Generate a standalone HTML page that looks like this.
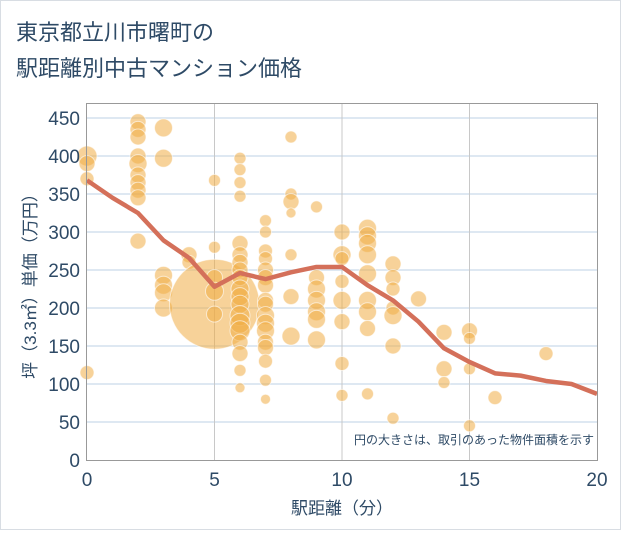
<!DOCTYPE html>
<html><head><meta charset="utf-8"><style>
body{margin:0;background:#fff;}
svg text{font-family:"Liberation Sans","Noto Sans CJK JP",sans-serif;fill:#2e4a66;}
</style></head><body>
<svg width="621" height="530" xmlns="http://www.w3.org/2000/svg">
<rect x="0.5" y="0.5" width="620" height="529" fill="#fff" stroke="#d8dde3"/>
<text x="16" y="40" font-size="22">東京都立川市曙町の</text>
<text x="16" y="76" font-size="22">駅距離別中古マンション価格</text>
<g id="grid"></g>
<g id="bubbles"></g>
<g id="line"></g>
<rect x="86.5" y="103.5" width="511" height="357" fill="none" stroke="#999"/>
<g id="axes"></g>
<text x="594" y="444" font-size="12" text-anchor="end">円の大きさは、取引のあった物件面積を示す</text>
<text x="342" y="514" font-size="17" text-anchor="middle">駅距離（分）</text>
<text transform="translate(36,282) rotate(-90)" font-size="17" text-anchor="middle">坪（3.3㎡）単価（万円）</text>
</svg>
<script>
const xTicks=[0,5,10,15,20];
const yTicks=[0,50,100,150,200,250,300,350,400,450];
const lineX=[0,1,2,3,4,5,6,7,8,9,10,11,12,13,14,15,16,17,18,19,20];
const lineY=[368,345,325,289,266,228,246,238,247,254,254,230,210,182,147,129,114,111,104,100,87];
const bubX=[0,0,0,0,2,2,2,2,2,2,2,2,2,2,3,3,3,3,3,3,4,4,5,5,5,5,5,5,
6,6,6,6,6,6,6,6,6,6,6,6,6,6,6,6,6,6,6,
7,7,7,7,7,7,7,7,7,7,7,7,7,7,7,7,7,
8,8,8,8,8,8,8,9,9,9,9,9,9,9,
10,10,10,10,10,10,10,10,11,11,11,11,11,11,11,11,11,
12,12,12,12,12,12,12,13,14,14,14,15,15,15,15,16,18];
const bubY=[400,390,370,115,445,435,425,400,390,375,365,355,345,288,437,397,243,230,220,200,270,260,205,280,368,240,222,192,
397,382,365,347,285,270,260,250,240,225,215,205,190,180,170,155,140,118,95,
315,300,275,265,250,240,230,210,205,190,180,170,155,148,130,105,80,
425,350,340,325,270,215,163,333,240,225,210,195,185,158,
300,270,265,235,210,182,127,85,305,295,285,270,245,210,195,173,87,
258,240,225,200,190,150,55,212,168,120,102,170,160,120,45,82,140];
const bubR=[10,8,7,7,8,8,8,8,9,8,8,8,8,8,9,9,9,9,9,9,8,7,45,6,6,8,9,8,
6,6,6,6,8,8,8,8,8,9,9,9,10,10,10,8,8,6,5,
6,6,7,7,8,8,8,8,8,9,9,9,8,8,7,6,5,
6,6,8,5,6,8,9,6,8,9,9,9,9,9,
8,9,7,7,9,8,7,6,9,9,9,9,9,9,9,8,6,
8,8,7,7,9,8,6,8,8,8,6,8,6,6,6,7,7];
const NS='http://www.w3.org/2000/svg';
const X=v=>87+v*25.5, Y=v=>460-v*0.76;
function mk(t,a,p){const e=document.createElementNS(NS,t);for(const k in a)e.setAttribute(k,a[k]);document.getElementById(p).appendChild(e);return e;}
yTicks.forEach(v=>{if(v>0){const l=mk('line',{x1:87,x2:597,y1:Y(v),y2:Y(v),stroke:'#d3e1ee','stroke-width':1.5},'grid');

}
const t=mk('text',{x:80,y:Y(v)+7,'font-size':19,'text-anchor':'end'},'axes');t.textContent=v;

});
xTicks.forEach(v=>{if(v>0&&v<20){const l=mk('line',{x1:X(v),x2:X(v),y1:103,y2:460,stroke:'#c8c8c8','stroke-width':1},'grid');

}
const t=mk('text',{x:X(v),y:486,'font-size':19,'text-anchor':'middle'},'axes');t.textContent=v;

});
bubX.forEach((x,i)=>{const c=mk('circle',{cx:X(x),cy:Y(bubY[i]),r:bubR[i],fill:'#f0ad45','fill-opacity':0.55,stroke:'#fff','stroke-opacity':0.6,'stroke-width':1},'bubbles');

});
const p=mk('polyline',{points:lineX.map((x,i)=>X(x)+','+Y(lineY[i])).join(' '),fill:'none',stroke:'#d4705a','stroke-width':4.5,'stroke-linejoin':'round'},'line');


</script>
</body></html>
